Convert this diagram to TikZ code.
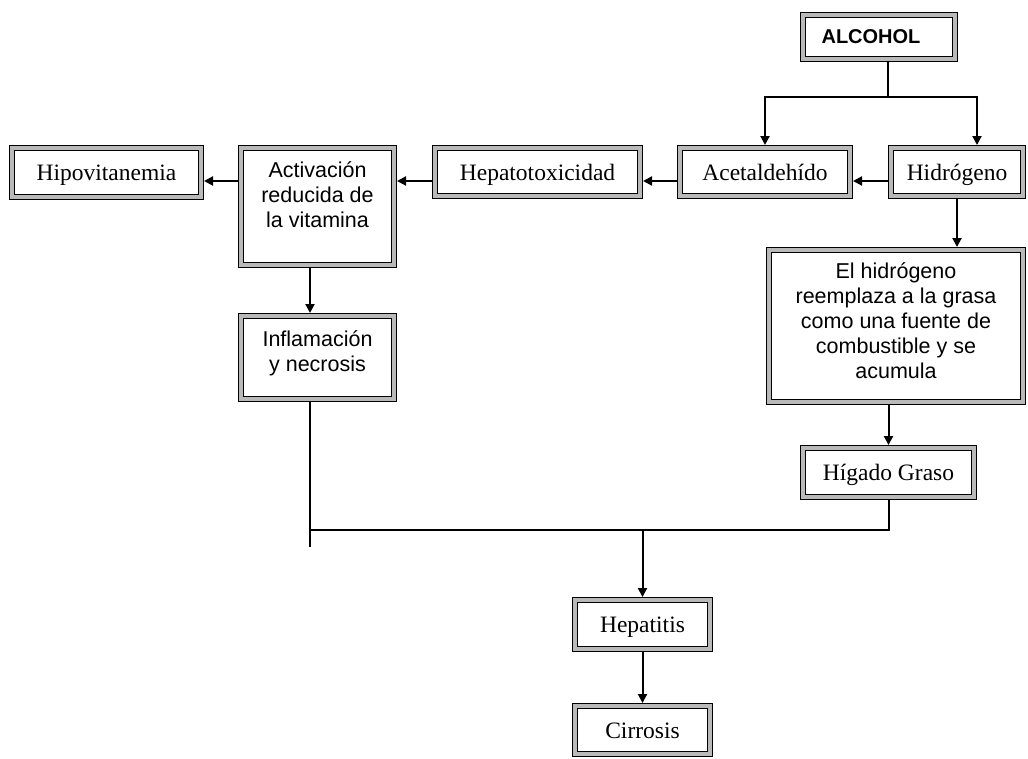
\documentclass[tikz,border=0pt]{standalone}
\usepackage{fontspec}
\setmainfont{Liberation Serif}
\setsansfont{Liberation Sans}
\usetikzlibrary{arrows.meta,calc}
\newcommand\lowstrut[1]{\rule[-#1]{0pt}{0pt}}
\begin{document}
\begin{tikzpicture}[x=1pt,y=-1pt,
  box/.style={draw=black, line width=1.3pt, double=gray!55, double distance=3.6pt,
              fill=white, inner sep=0pt, outer sep=3.1pt, align=center},
  wh/.style n args={2}{minimum width=#1pt-6.2pt, minimum height=#2pt-6.2pt},
  ser/.style={box, font=\fontsize{23.5}{27}\selectfont, text height=16pt, text depth=0pt},
  san/.style={box, font=\sffamily\fontsize{21.5}{25}\selectfont},
  conn/.style={line width=2pt},
  arr/.style={conn, -{Triangle[length=9pt,width=9pt]}}]
\useasboundingbox (0,0) rectangle (1028,758);
\fill[white] (0,0) rectangle (1028,758);

\node[box, wh={158}{50}, font=\sffamily\bfseries\fontsize{20}{24}\selectfont] (alc) at (879,37) {ALCOHOL\kern16pt};
\node[ser, wh={138}{54}] (hid) at (957,172) {Hidrógeno};
\node[ser, wh={176}{54}] (ace) at (765,172) {Acetaldehído};
\node[ser, wh={211}{54}] (hep) at (537.5,172) {Hepatotoxicidad};
\node[san, wh={159}{123}] (act) at (317.5,206.5) {Activación\\reducida de\\la vitamina\lowstrut{24.5pt}};
\node[ser, wh={195}{55}] (hipo) at (106.5,172.5) {Hipovitanemia};
\node[san, wh={159}{89}] (infl) at (317.5,357.5) {Inflamación\\y necrosis\lowstrut{12.5pt}};
\node[san, wh={260}{158}] (el) at (896,326) {El hidrógeno\\reemplaza a la grasa\\como una fuente de\\combustible y se\\acumula\lowstrut{10.5pt}};
\node[ser, wh={177}{55}] (hig) at (888.5,472.5) {Hígado Graso};
\node[ser, wh={141}{55}] (hepa) at (642.5,624.5) {Hepatitis};
\node[ser, wh={141}{54}] (cir) at (642.5,730) {Cirrosis};

\coordinate (row) at (0,181);
\coordinate (split) at (888,97);
\coordinate (c1) at (310,0);
\coordinate (hline) at (0,530);
\coordinate (tail) at (310,547);

\draw[conn] (alc.south -| split) -- (split);
\draw[arr] (split) -| (ace.north);
\draw[arr] (split) -| ([xshift=20pt]hid.north);
\draw[arr] (hid.west |- row) -- (ace.east |- row);
\draw[arr] (ace.west |- row) -- (hep.east |- row);
\draw[arr] (hep.west |- row) -- (act.east |- row);
\draw[arr] (act.west |- row) -- (hipo.east |- row);
\draw[arr] (act.south -| c1) -- (infl.north -| c1);
\draw[arr] (hid.south) -- (hid.south |- el.north);
\draw[arr] (el.south -| hig.north) -- (hig.north);
\draw[conn] (infl.south -| tail) -- (tail);
\draw[conn] (hig.south) |- (tail |- hline);
\draw[arr] (hepa.north |- hline) -- (hepa.north);
\draw[arr] (hepa) -- (cir);
\end{tikzpicture}
\end{document}
